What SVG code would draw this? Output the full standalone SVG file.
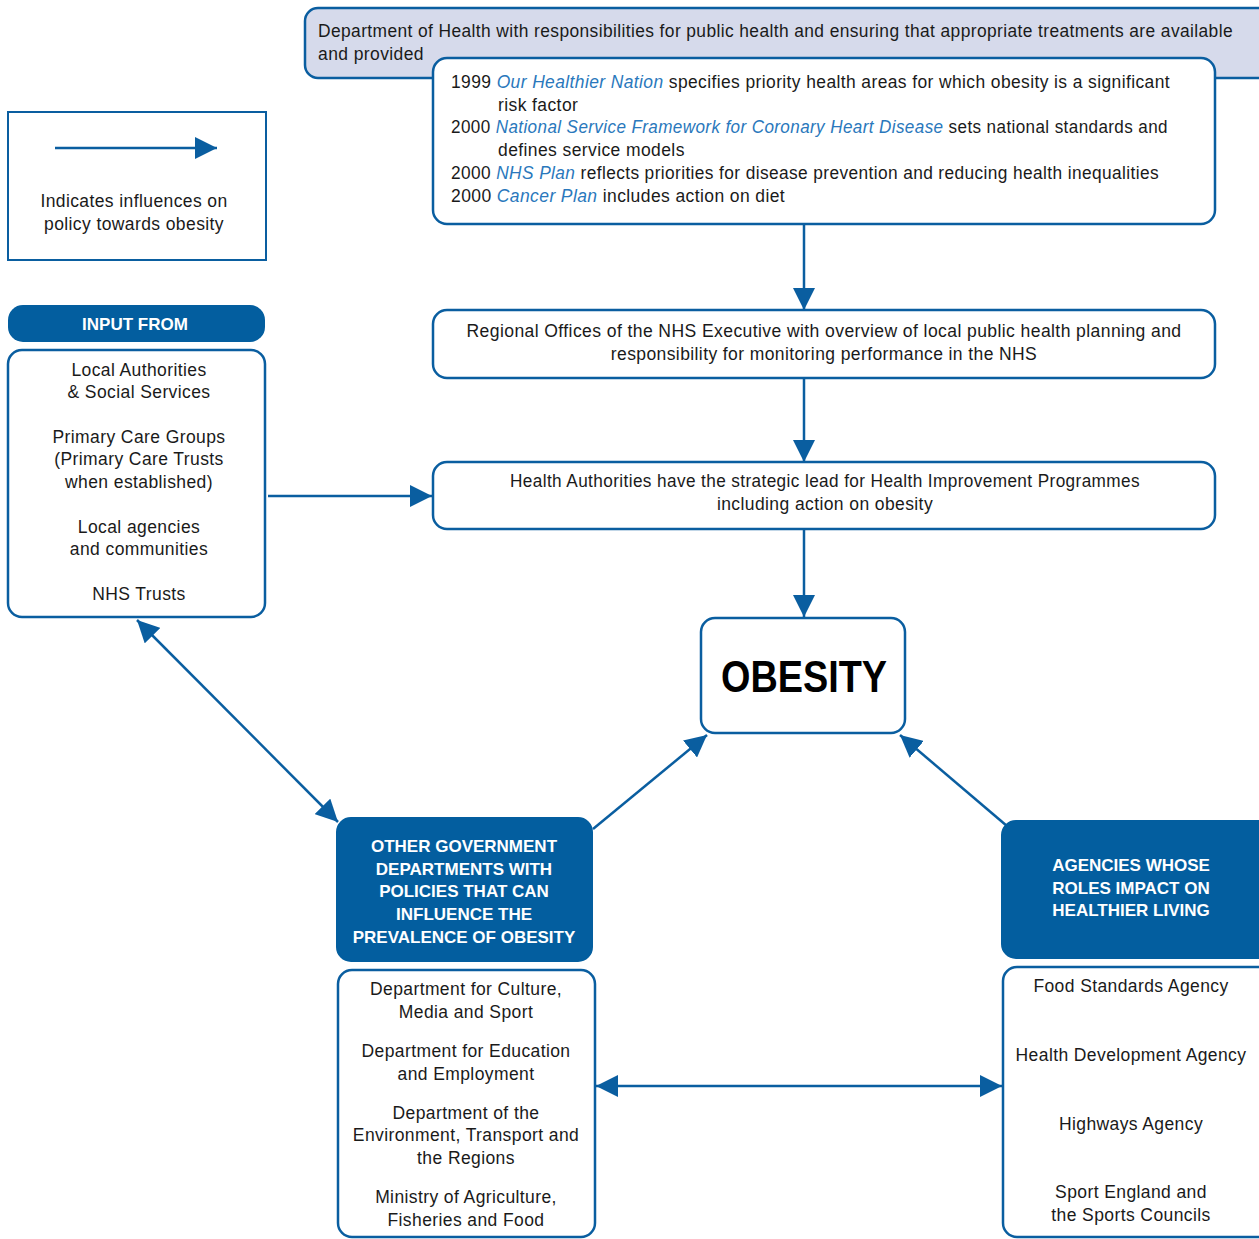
<svg xmlns="http://www.w3.org/2000/svg" width="1259" height="1239" viewBox="0 0 1259 1239">
<style>
.box{fill:#fff;stroke:#0A5EA0;stroke-width:2.5}
.dark{fill:#035E9F;stroke:#035E9F;stroke-width:2}
.t{font-family:"Liberation Sans",Arial,sans-serif;font-size:17.5px;letter-spacing:0.4px;fill:#1a1a1a}
.c{text-anchor:middle}
.i{font-style:italic;fill:#2A78BC}
.w{font-family:"Liberation Sans",Arial,sans-serif;font-size:17px;font-weight:bold;fill:#fff;text-anchor:middle}
.ln{stroke:#0A5EA0;stroke-width:2.5;fill:none}
</style>
<defs>
<marker id="ah" viewBox="0 0 22 22" refX="22" refY="11" markerWidth="22" markerHeight="22" markerUnits="userSpaceOnUse" orient="auto-start-reverse">
<path d="M0,0 L22,11 L0,22 z" fill="#0A5EA0"/>
</marker>
</defs>
<rect width="1259" height="1239" fill="#fff"/>

<g id="connectors">
<line class="ln" x1="804" y1="224" x2="804" y2="310" marker-end="url(#ah)"/>
<line class="ln" x1="804" y1="378" x2="804" y2="462" marker-end="url(#ah)"/>
<line class="ln" x1="804" y1="529" x2="804" y2="617" marker-end="url(#ah)"/>
<line class="ln" x1="268" y1="496" x2="432" y2="496" marker-end="url(#ah)"/>
<line class="ln" x1="137" y1="620" x2="338" y2="822" marker-start="url(#ah)" marker-end="url(#ah)"/>
<line class="ln" x1="593" y1="829" x2="707" y2="735" marker-end="url(#ah)"/>
<line class="ln" x1="1007" y1="826" x2="900" y2="735" marker-end="url(#ah)"/>
<line class="ln" x1="596" y1="1086" x2="1002" y2="1086" marker-start="url(#ah)" marker-end="url(#ah)"/>
</g>

<g id="legend">
<rect x="8" y="112" width="258" height="148" fill="#fff" stroke="#0A5EA0" stroke-width="2"/>
<line class="ln" x1="55" y1="148" x2="217" y2="148" marker-end="url(#ah)"/>
<text class="t c" x="134" y="207">Indicates influences on</text>
<text class="t c" x="134" y="230">policy towards obesity</text>
</g>

<g id="doh">
<rect x="305" y="8" width="975" height="70" rx="13" fill="#D6DAEB" stroke="#0A5EA0" stroke-width="2.5"/>
<text class="t" x="318" y="37" textLength="915" lengthAdjust="spacingAndGlyphs">Department of Health with responsibilities for public health and ensuring that appropriate treatments are available</text>
<text class="t" x="318" y="60">and provided</text>
</g>

<g id="policies">
<rect class="box" x="433" y="58" width="782" height="166" rx="14"/>
<text class="t" x="451" y="88" textLength="719" lengthAdjust="spacingAndGlyphs">1999 <tspan class="i">Our Healthier Nation</tspan> specifies priority health areas for which obesity is a significant</text>
<text class="t" x="498" y="111">risk factor</text>
<text class="t" x="451" y="133" textLength="717" lengthAdjust="spacingAndGlyphs">2000 <tspan class="i">National Service Framework for Coronary Heart Disease</tspan> sets national standards and</text>
<text class="t" x="498" y="156">defines service models</text>
<text class="t" x="451" y="179" textLength="708" lengthAdjust="spacingAndGlyphs">2000 <tspan class="i">NHS Plan</tspan> reflects priorities for disease prevention and reducing health inequalities</text>
<text class="t" x="451" y="202">2000 <tspan class="i">Cancer Plan</tspan> includes action on diet</text>
</g>

<g id="regional">
<rect class="box" x="433" y="310" width="782" height="68" rx="14"/>
<text class="t c" x="824" y="337" textLength="715" lengthAdjust="spacingAndGlyphs">Regional Offices of the NHS Executive with overview of local public health planning and</text>
<text class="t c" x="824" y="360">responsibility for monitoring performance in the NHS</text>
</g>

<g id="health-authorities">
<rect class="box" x="433" y="462" width="782" height="67" rx="14"/>
<text class="t c" x="825" y="487" textLength="630" lengthAdjust="spacingAndGlyphs">Health Authorities have the strategic lead for Health Improvement Programmes</text>
<text class="t c" x="825" y="510">including action on obesity</text>
</g>

<g id="input-from">
<rect x="8" y="305" width="257" height="37" rx="15" fill="#035E9F"/>
<text class="w" x="135" y="330">INPUT FROM</text>
</g>

<g id="input-list">
<rect class="box" x="8" y="350" width="257" height="267" rx="14"/>
<text class="t c" x="139" y="376">Local Authorities</text>
<text class="t c" x="139" y="398">&amp; Social Services</text>
<text class="t c" x="139" y="443">Primary Care Groups</text>
<text class="t c" x="139" y="465">(Primary Care Trusts</text>
<text class="t c" x="139" y="488">when established)</text>
<text class="t c" x="139" y="533">Local agencies</text>
<text class="t c" x="139" y="555">and communities</text>
<text class="t c" x="139" y="600">NHS Trusts</text>
</g>

<g id="obesity">
<rect class="box" x="701" y="618" width="204" height="115" rx="14"/>
<text x="804" y="692" text-anchor="middle" font-family="Liberation Sans,Arial,sans-serif" font-weight="bold" font-size="44" fill="#000" textLength="166" lengthAdjust="spacingAndGlyphs">OBESITY</text>
</g>

<g id="other-gov">
<rect class="dark" x="337" y="818" width="255" height="143" rx="14"/>
<text class="w" x="464" y="852">OTHER GOVERNMENT</text>
<text class="w" x="464" y="875">DEPARTMENTS WITH</text>
<text class="w" x="464" y="897">POLICIES THAT CAN</text>
<text class="w" x="464" y="920">INFLUENCE THE</text>
<text class="w" x="464" y="943">PREVALENCE OF OBESITY</text>
</g>

<g id="agencies">
<rect class="dark" x="1002" y="821" width="275" height="137" rx="14"/>
<text class="w" x="1131" y="871">AGENCIES WHOSE</text>
<text class="w" x="1131" y="894">ROLES IMPACT ON</text>
<text class="w" x="1131" y="916">HEALTHIER LIVING</text>
</g>

<g id="dept-list">
<rect class="box" x="338" y="970" width="257" height="267" rx="14"/>
<text class="t c" x="466" y="995">Department for Culture,</text>
<text class="t c" x="466" y="1018">Media and Sport</text>
<text class="t c" x="466" y="1057">Department for Education</text>
<text class="t c" x="466" y="1080">and Employment</text>
<text class="t c" x="466" y="1119">Department of the</text>
<text class="t c" x="466" y="1141">Environment, Transport and</text>
<text class="t c" x="466" y="1164">the Regions</text>
<text class="t c" x="466" y="1203">Ministry of Agriculture,</text>
<text class="t c" x="466" y="1226">Fisheries and Food</text>
</g>

<g id="agency-list">
<rect class="box" x="1003" y="967" width="275" height="270" rx="14"/>
<text class="t c" x="1131" y="992">Food Standards Agency</text>
<text class="t c" x="1131" y="1061">Health Development Agency</text>
<text class="t c" x="1131" y="1130">Highways Agency</text>
<text class="t c" x="1131" y="1198">Sport England and</text>
<text class="t c" x="1131" y="1221">the Sports Councils</text>
</g>
</svg>
